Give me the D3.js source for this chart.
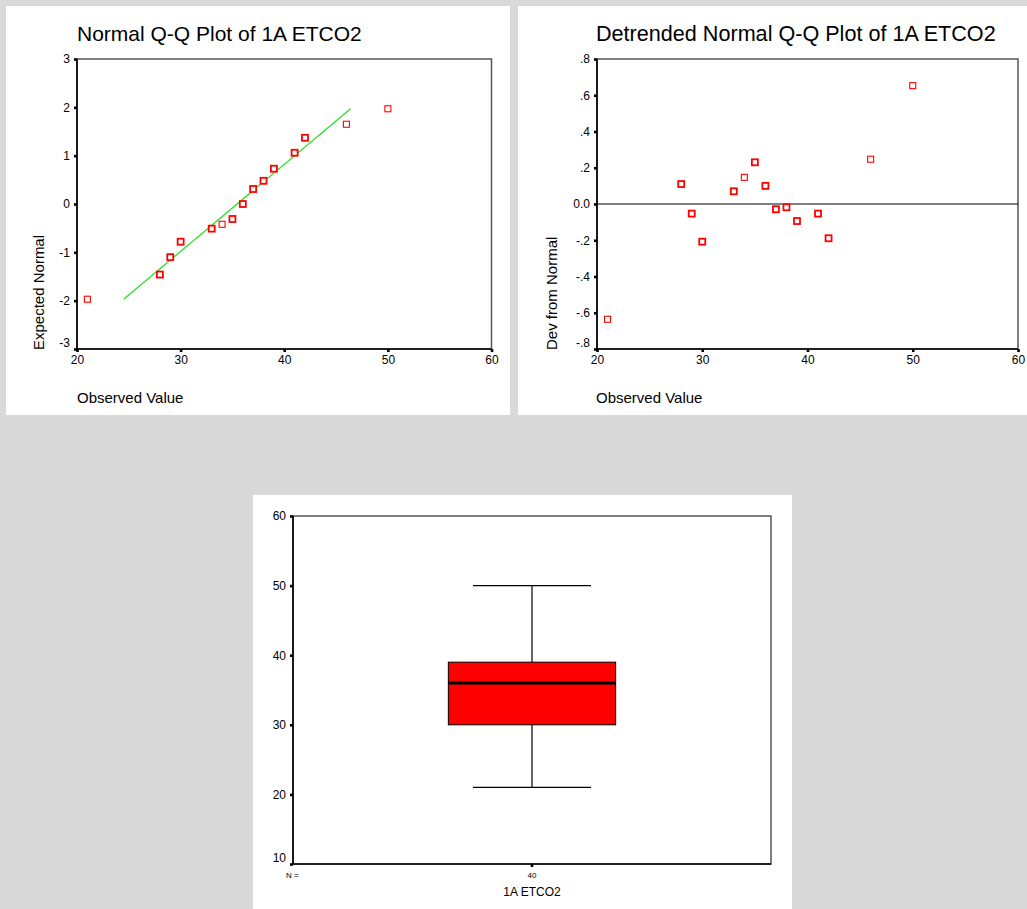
<!DOCTYPE html>
<html>
<head>
<meta charset="utf-8">
<script src="https://cdn.jsdelivr.net/npm/d3@7"></script>
<style>
  body { margin: 0; background: #d9d9d9; }
  svg { display: block; font-family: "Liberation Sans", Arial, sans-serif; }
</style>
</head>
<body>
<svg id="chart" width="1027" height="909"></svg>
<script>
// ============================================================
// DATA
// ============================================================
const observed  = [21, 28, 29, 30, 33, 34, 35, 36, 37, 38, 39, 41, 42, 46, 50];
const expected  = [-1.97, -1.46, -1.10, -0.78, -0.51, -0.42, -0.31, 0.00, 0.31, 0.48, 0.73, 1.06, 1.37, 1.65, 1.97];
const deviation = [-0.636, 0.11, -0.053, -0.208, 0.07, 0.147, 0.23, 0.10, -0.029, -0.018, -0.094, -0.053, -0.189, 0.247, 0.653];
const ties      = [1, 3, 3, 4, 3, 1, 3, 4, 3, 3, 4, 3, 3, 1, 1];

// fitted normal line end points (observed, expected)
const fitLine = [[24.5, -1.97], [46.4, 1.97]];

const qqYTicks = [3, 2, 1, 0, -1, -2, -3];
const detYTicks = [0.8, 0.6, 0.4, 0.2, 0, -0.2, -0.4, -0.6, -0.8];
const detYLabels = ['.8', '.6', '.4', '.2', '0.0', '-.2', '-.4', '-.6', '-.8'];
const obsTicks = [20, 30, 40, 50, 60];

const boxStats = { min: 21, q1: 30, median: 36, q3: 39, max: 50 };
const boxN = 40;
const boxName = '1A ETCO2';
const boxYTicks = [60, 50, 40, 30, 20, 10];

const svg = d3.select('#chart');

// ============================================================
// PANEL HELPERS
// ============================================================
function panel(x, y, w, h) {
  svg.append('rect').attr('x', x).attr('y', y).attr('width', w).attr('height', h).attr('fill', '#fff');
}

function frame(g, x0, x1, y0, y1) {
  g.append('rect').attr('x', x0).attr('y', y0).attr('width', x1 - x0).attr('height', y1 - y0)
    .attr('fill', 'none').attr('stroke', '#555').attr('stroke-width', 1.5);
  g.append('line').attr('x1', x0).attr('x2', x0).attr('y1', y0).attr('y2', y1)
    .attr('stroke', '#000').attr('stroke-width', 1.6);
  g.append('line').attr('x1', x0).attr('x2', x1).attr('y1', y1).attr('y2', y1)
    .attr('stroke', '#000').attr('stroke-width', 1.6);
}

function styleAxis(ax, fontSize) {
  ax.select('.domain').remove();
  ax.selectAll('.tick line').attr('stroke', '#000').attr('stroke-width', 2.6);
  ax.selectAll('.tick text').attr('fill', '#000').style('font-size', fontSize + 'px')
    .style('font-family', '"Liberation Sans", Arial, sans-serif');
}

function leftAxis(g, y, x0, ticks, labels) {
  const ax = g.append('g').attr('transform', `translate(${x0},0)`)
    .call(d3.axisLeft(y).tickValues(ticks).tickSize(3).tickPadding(4)
      .tickFormat((d, i) => labels ? labels[i] : d));
  styleAxis(ax, 12);
  // lowest label is lifted off the x axis
  ax.selectAll('.tick text').filter((d, i) => i === ticks.length - 1).attr('dy', '-0.2em');
  return ax;
}

function bottomAxis(g, x, y1, ticks) {
  const ax = g.append('g').attr('transform', `translate(0,${y1})`)
    .call(d3.axisBottom(x).tickValues(ticks).tickSize(3).tickPadding(3));
  styleAxis(ax, 12);
  return ax;
}

function markers(g, x, y, xs, ys) {
  g.selectAll('rect.pt').data(xs).join('rect').attr('class', 'pt')
    .attr('x', (d, i) => x(d) - 3).attr('y', (d, i) => y(ys[i]) - 3)
    .attr('width', 6).attr('height', 6)
    .attr('fill', '#fff').attr('stroke', '#f00')
    .attr('stroke-width', (d, i) => ties[i] > 1 ? 1.8 : 1.1);
}

function titles(g, title, x0, titleSize, ylabel, yLabelX, yLabelBottom) {
  g.append('text').attr('x', x0).attr('y', 41).style('font-size', titleSize + 'px').text(title);
  g.append('text').attr('transform', `translate(${yLabelX},${yLabelBottom}) rotate(-90)`)
    .style('font-size', '15px').text(ylabel);
  g.append('text').attr('x', x0).attr('y', 403).style('font-size', '15px').text('Observed Value');
}

// ============================================================
// NORMAL Q-Q PLOT
// ============================================================
panel(6, 6, 504, 409);
{
  const g = svg.append('g');
  const X0 = 77, X1 = 491.5, Y0 = 59, Y1 = 349;
  const x = d3.scaleLinear().domain([20, 60]).range([X0, X1]);
  const y = d3.scaleLinear().domain([-3, 3]).range([Y1, Y0]);
  frame(g, X0, X1, Y0, Y1);
  leftAxis(g, y, X0, qqYTicks);
  bottomAxis(g, x, Y1, obsTicks);
  g.append('path').datum(fitLine)
    .attr('d', d3.line().x(d => x(d[0])).y(d => y(d[1])))
    .attr('stroke', '#22e022').attr('stroke-width', 1.2).attr('fill', 'none');
  markers(g, x, y, observed, expected);
  titles(g, 'Normal Q-Q Plot of 1A ETCO2', X0, 21, 'Expected Normal', 44, 350);
}

// ============================================================
// DETRENDED NORMAL Q-Q PLOT
// ============================================================
panel(518, 6, 509, 409);
{
  const g = svg.append('g');
  const X0 = 597, X1 = 1018, Y0 = 59, Y1 = 349;
  const x = d3.scaleLinear().domain([20, 60]).range([X0, X1]);
  const y = d3.scaleLinear().domain([-0.8, 0.8]).range([Y1, Y0]);
  frame(g, X0, X1, Y0, Y1);
  leftAxis(g, y, X0, detYTicks, detYLabels);
  bottomAxis(g, x, Y1, obsTicks);
  g.append('line').attr('x1', X0).attr('x2', X1).attr('y1', y(0)).attr('y2', y(0))
    .attr('stroke', '#000').attr('stroke-width', 1);
  markers(g, x, y, observed, deviation);
  titles(g, 'Detrended Normal Q-Q Plot of 1A ETCO2', X0 - 1, 21.6, 'Dev from Normal', 557, 350);
}

// ============================================================
// BOX PLOT
// ============================================================
panel(253, 495, 539, 414);
{
  const g = svg.append('g');
  const X0 = 293, X1 = 771, Y0 = 516, Y1 = 864;
  const x = d3.scaleBand().domain([boxName]).range([X0, X1]);
  const y = d3.scaleLinear().domain([10, 60]).range([Y1, Y0]);
  frame(g, X0, X1, Y0, Y1);
  leftAxis(g, y, X0, boxYTicks);

  const cx = x(boxName) + x.bandwidth() / 2;
  const boxW = x.bandwidth() * 0.35, capW = x.bandwidth() * 0.247;

  g.append('line').attr('x1', cx).attr('x2', cx).attr('y1', y(boxStats.max)).attr('y2', y(boxStats.min))
    .attr('stroke', '#000').attr('stroke-width', 1.2);
  [boxStats.min, boxStats.max].forEach(v => {
    g.append('line').attr('x1', cx - capW / 2).attr('x2', cx + capW / 2).attr('y1', y(v)).attr('y2', y(v))
      .attr('stroke', '#000').attr('stroke-width', 1.2);
  });
  g.append('rect').attr('x', cx - boxW / 2).attr('y', y(boxStats.q3))
    .attr('width', boxW).attr('height', y(boxStats.q1) - y(boxStats.q3))
    .attr('fill', '#f00').attr('stroke', '#000').attr('stroke-width', 1);
  g.append('line').attr('x1', cx - boxW / 2).attr('x2', cx + boxW / 2)
    .attr('y1', y(boxStats.median)).attr('y2', y(boxStats.median))
    .attr('stroke', '#000').attr('stroke-width', 3);

  // category tick + counts row
  g.append('line').attr('x1', cx).attr('x2', cx).attr('y1', Y1).attr('y2', Y1 + 3)
    .attr('stroke', '#000').attr('stroke-width', 2.6);
  g.append('text').attr('x', 286).attr('y', 878).style('font-size', '8px').text('N =');
  g.append('text').attr('x', cx).attr('y', 878).attr('text-anchor', 'middle').style('font-size', '8px').text(boxN);
  g.append('text').attr('x', cx).attr('y', 896).attr('text-anchor', 'middle').style('font-size', '12px').text(boxName);
}
</script>
</body>
</html>
